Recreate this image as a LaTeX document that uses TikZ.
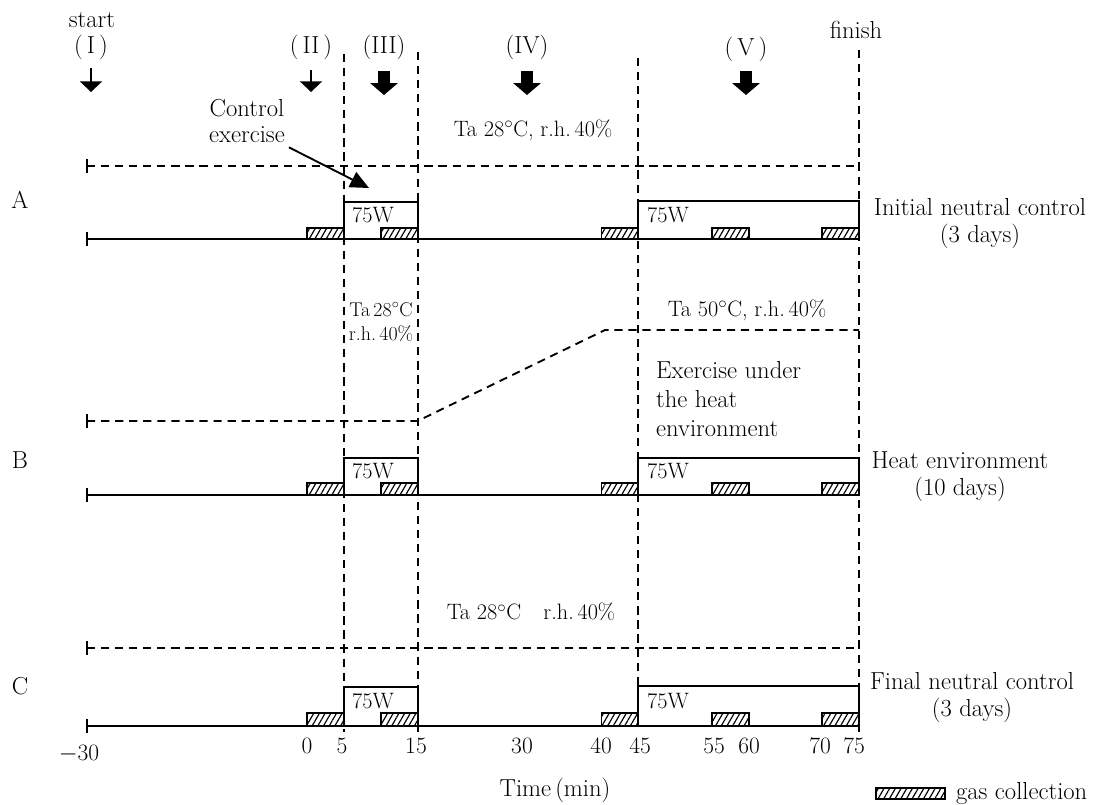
\documentclass[tikz,border=0pt]{standalone}
\usetikzlibrary{arrows.meta,patterns.meta}

\tikzset{
  tline/.style={line width=1.6pt,dash pattern=on 7pt off 5pt},
  axisline/.style={line width=2pt},
  loadbox/.style={line width=1.6pt},
  gasbox/.style={line width=1.3pt,pattern={Lines[angle=60,distance=4.2pt,line width=1pt]}},
  thinarr/.style={line width=1.8pt,-{Triangle[width=0.66cm,length=0.32cm]}},
  blockarr/.style={line width=0.38cm,-{Triangle[width=0.82cm,length=0.36cm]}},
  ctrlarr/.style={line width=1.6pt,-{Triangle[width=0.5cm,length=0.56cm]}},
  tick/.style={font=\fontsize{20}{22}\selectfont},
  watt/.style={anchor=west,font=\fontsize{19}{21}\selectfont},
  cond/.style={font=\fontsize{19}{21}\selectfont}
}

\begin{document}
\begin{tikzpicture}[x=0.03cm,y=-0.03cm,every node/.style={font=\fontsize{21}{23}\selectfont}]
\useasboundingbox (0,0) rectangle (1112,804);

% phases
\node (start) at (92,20) {start};
\node (p1) at (91,47) {(\,I\,)};
\node (p2) at (311,47) {(\,II\,)};
\node (p3) at (384,47) {(III)};
\node (p4) at (527,47) {(IV)};
\node (p5) at (746,49) {(\,V\,)};
\node (finish) at (856,30) {finish};
\draw[thinarr] (p1.south |- 0,68) -- (p1.south |- 0,92);
\draw[thinarr] (p2.south |- 0,70) -- (p2.south |- 0,92);
\draw[blockarr] (p3.south |- 0,71) -- (p3.south |- 0,95);
\draw[blockarr] (p4.south |- 0,71) -- (p4.south |- 0,95);
\draw[blockarr] (p5.south |- 0,71) -- (p5.south |- 0,95);

% time borders
\draw[tline] (344,54) -- (344,732);
\draw[tline] (417.6,52) -- (417.6,732);
\draw[tline] (638,58) -- (638,732);
\draw[tline] (859,50) -- (859,732);

% A
\node (rowA) at (20,200) {A};
\node (ctrl) at (247,121) [align=center] {Control\\exercise};
\coordinate (ctrltip) at (369,188);
\draw[ctrlarr] (ctrl.south east) -- (ctrltip);
\node[cond] (taA) at (533,130) {Ta 28$^{\circ}$C,\ r.h.\,40\%};
\draw[axisline] (87,159) -- (87,173);
\draw[tline] (87,166) -- (859,166);
\draw[axisline] (87,232) -- (87,246);
\draw[axisline] (87,239) -- (859,239);
\draw[loadbox] (344,239) -- (344,202) -- (417.6,202) -- (417.6,239);
\draw[loadbox] (638,239) -- (638,201) -- (859,201) -- (859,239);
\node[watt] (wA1) at (348,215) {75W};
\node[watt] (wA2) at (643,215) {75W};
\draw[gasbox] (307,228) rectangle (344,239);
\draw[gasbox] (381,228) rectangle (417.6,239);
\draw[gasbox] (601.5,228) rectangle (638,239);
\draw[gasbox] (712,228) rectangle (749,239);
\draw[gasbox] (822,228) rectangle (859,239);
\node (lblA) at (980,224) [align=center] {Initial neutral control\\(3 days)};

% B
\node (rowB) at (20,460) {B};
\node (taB1) at (381,322) [align=center,inner sep=0pt,font=\fontsize{17}{21}\selectfont] {Ta\,28$^{\circ}$C\\r.h.\,40\%};
\node[cond] (taB2) at (747,310) {Ta 50$^{\circ}$C,\ r.h.\,40\%};
\node (exB) at (652,399) [anchor=west,align=left,font=\fontsize{21}{25}\selectfont] {Exercise under\\the heat\\environment};
\draw[axisline] (87,414) -- (87,428);
\draw[tline] (87,421) -- (417.6,421) -- (605,330) -- (859,330);
\draw[axisline] (87,488) -- (87,502);
\draw[axisline] (87,495) -- (859,495);
\draw[loadbox] (344,495) -- (344,458) -- (417.6,458) -- (417.6,495);
\draw[loadbox] (638,495) -- (638,458) -- (859,458) -- (859,495);
\node[watt] (wB1) at (348,471) {75W};
\node[watt] (wB2) at (643,471) {75W};
\draw[gasbox] (307,483) rectangle (344,495);
\draw[gasbox] (381,483) rectangle (417.6,495);
\draw[gasbox] (601.5,483) rectangle (638,495);
\draw[gasbox] (712,483) rectangle (749,495);
\draw[gasbox] (822,483) rectangle (859,495);
\node (lblB) at (960,477) [align=center] {Heat environment\\(10 days)};

% C
\node (rowC) at (20,686) {C};
\node[cond] (taC) at (531,612) {Ta 28$^{\circ}$C\quad r.h.\,40\%};
\draw[axisline] (87,641) -- (87,655);
\draw[tline] (87,648) -- (859,648);
\draw[axisline] (87,719) -- (87,733);
\draw[axisline] (87,726) -- (859,726);
\draw[loadbox] (344,726) -- (344,687) -- (417.6,687) -- (417.6,726);
\draw[loadbox] (638,726) -- (638,686) -- (859,686) -- (859,726);
\node[watt] (wC1) at (348,701) {75W};
\node[watt] (wC2) at (643,701) {75W};
\draw[gasbox] (307,713) rectangle (344,726);
\draw[gasbox] (381,713) rectangle (417.6,726);
\draw[gasbox] (601.5,713) rectangle (638,726);
\draw[gasbox] (712,713) rectangle (749,726);
\draw[gasbox] (822,713) rectangle (859,726);
\node (lblC) at (972,698) [align=center] {Final neutral control\\(3 days)};

% time axis
\node[tick] (t0) at (79,754) {$-$30};
\node[tick] (t1) at (307,746) {0};
\node[tick] (t2) at (342,746) {5};
\node[tick] (t3) at (416,746) {15};
\node[tick] (t4) at (522,746) {30};
\node[tick] (t5) at (601,746) {40};
\node[tick] (t6) at (640,746) {45};
\node[tick] (t7) at (714,746) {55};
\node[tick] (t8) at (749,746) {60};
\node[tick] (t9) at (820,746) {70};
\node[tick] (t10) at (854,746) {75};
\node (time) at (555,790) {Time\,(min)};

% legend
\draw[gasbox] (876,788) rectangle (945,799);
\node (gas) at (952,793) [anchor=west] {gas collection};
\end{tikzpicture}
\end{document}
